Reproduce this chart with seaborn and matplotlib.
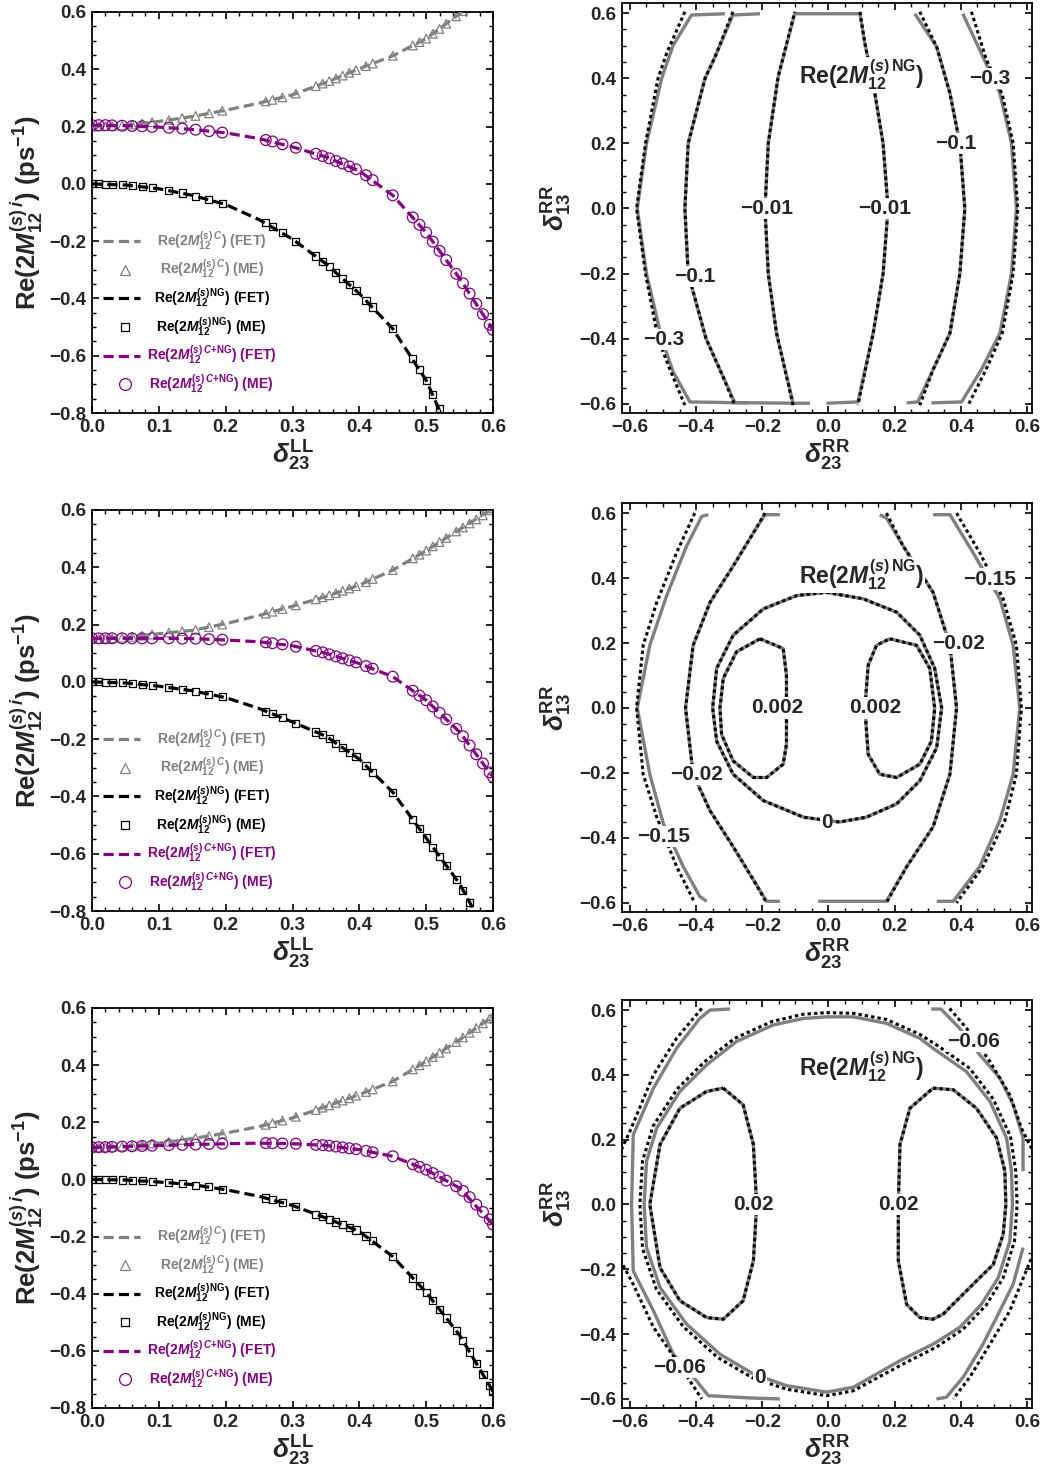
import matplotlib
matplotlib.use('Agg')
import matplotlib.pyplot as plt
import seaborn as sns
from matplotlib.ticker import MultipleLocator, FuncFormatter

# ---------------- left column: scan over delta_23^LL ----------------
delta_ll = [0.0, 0.05, 0.1, 0.15, 0.2, 0.25, 0.3, 0.35, 0.4, 0.45, 0.5, 0.55, 0.6]

c_fet_top = [0.200, 0.205, 0.218, 0.235, 0.257, 0.282, 0.311, 0.354, 0.402, 0.447, 0.507, 0.594, 0.69]
ng_fet_top = [0.0, -0.004, -0.017, -0.040, -0.072, -0.125, -0.193, -0.279, -0.383, -0.506, -0.686, -0.95, -1.2]
cng_fet_top = [0.205, 0.203, 0.198, 0.190, 0.178, 0.158, 0.129, 0.094, 0.045, -0.040, -0.170, -0.330, -0.510]

c_fet_mid = [0.150, 0.155, 0.168, 0.180, 0.203, 0.232, 0.264, 0.298, 0.338, 0.390, 0.458, 0.532, 0.606]
ng_fet_mid = [0.0, -0.004, -0.015, -0.031, -0.055, -0.093, -0.140, -0.190, -0.270, -0.385, -0.545, -0.705, -0.92]
cng_fet_mid = [0.152, 0.152, 0.152, 0.151, 0.146, 0.140, 0.126, 0.100, 0.064, 0.018, -0.064, -0.175, -0.332]

c_fet_bot = [0.112, 0.116, 0.127, 0.143, 0.162, 0.185, 0.215, 0.255, 0.297, 0.343, 0.413, 0.489, 0.571]
ng_fet_bot = [0.0, -0.002, -0.009, -0.018, -0.036, -0.059, -0.091, -0.135, -0.182, -0.270, -0.395, -0.545, -0.742]
cng_fet_bot = [0.112, 0.115, 0.119, 0.122, 0.125, 0.127, 0.125, 0.119, 0.104, 0.081, 0.034, -0.030, -0.158]

# scan points of the matrix-element (ME) calculation
me_x = [0.0, 0.01, 0.02, 0.03, 0.045, 0.06, 0.075, 0.09, 0.115, 0.135, 0.155, 0.175, 0.195,
        0.26, 0.27, 0.285, 0.305, 0.335, 0.345, 0.355, 0.365, 0.375, 0.385, 0.395, 0.41, 0.42,
        0.45, 0.48, 0.49, 0.5, 0.51, 0.52, 0.53, 0.545, 0.555, 0.565, 0.575, 0.585, 0.595, 0.6]

c_me_top = [.200, .200, .201, .202, .204, .207, .211, .215, .223, .230, .237, .246, .255,
            .288, .293, .302, .315, .341, .350, .359, .368, .378, .388, .397, .411, .420,
            .447, .483, .495, .507, .524, .541, .559, .585, .603, .62, .64, .66, .68, .69]
ng_me_top = [0, 0, -.001, -.0015, -.003, -.006, -.009, -.014, -.023, -.032, -.043, -.055, -.069,
             -.136, -.148, -.170, -.201, -.252, -.270, -.288, -.309, -.330, -.351, -.372, -.406, -.430,
             -.506, -.610, -.648, -.686, -.735, -.785, -.840, -.92, -.98, -1.03, -1.08, -1.13, -1.18, -1.2]
cng_me_top = [.205, .205, .205, .204, .203, .202, .201, .199, .196, .193, .189, .184, .179,
              .153, .148, .138, .126, .105, .097, .089, .080, .071, .061, .051, .030, .013,
              -.040, -.117, -.143, -.170, -.202, -.234, -.266, -.314, -.347, -.383, -.419, -.455, -.492, -.510]

c_me_mid = [.150, .150, .151, .152, .154, .157, .161, .165, .172, .177, .182, .191, .200,
            .238, .245, .254, .267, .288, .295, .302, .310, .318, .326, .334, .348, .359,
            .390, .431, .444, .458, .473, .488, .502, .525, .539, .553, .567, .581, .599, .606]
ng_me_mid = [0, 0, -.001, -.001, -.003, -.005, -.009, -.012, -.020, -.026, -.033, -.043, -.052,
             -.102, -.111, -.126, -.145, -.175, -.185, -.198, -.214, -.230, -.246, -.262, -.293, -.316,
             -.385, -.481, -.513, -.545, -.577, -.609, -.641, -.689, -.727, -.770, -.813, -.856, -.899, -.920]
cng_me_mid = [.152, .152, .152, .152, .152, .152, .152, .152, .152, .151, .151, .149, .147,
              .138, .135, .131, .123, .108, .103, .096, .089, .082, .075, .068, .055, .046,
              .018, -.031, -.048, -.064, -.086, -.108, -.131, -.164, -.190, -.222, -.253, -.285, -.316, -.332]

c_me_bot = [.112, .112, .113, .114, .115, .118, .121, .125, .132, .138, .145, .152, .160,
            .191, .197, .206, .219, .243, .251, .259, .268, .276, .284, .293, .306, .315,
            .343, .385, .399, .413, .428, .443, .458, .481, .497, .513, .530, .546, .563, .571]
ng_me_bot = [0, 0, 0, -.001, -.002, -.003, -.005, -.007, -.012, -.015, -.020, -.026, -.034,
             -.065, -.071, -.081, -.095, -.122, -.131, -.140, -.149, -.159, -.168, -.177, -.198, -.214,
             -.270, -.345, -.370, -.395, -.425, -.455, -.485, -.530, -.565, -.604, -.643, -.683, -.722, -.742]
cng_me_bot = [.112, .113, .113, .114, .115, .116, .117, .118, .120, .121, .122, .124, .125,
              .127, .127, .126, .125, .121, .120, .118, .115, .112, .109, .106, .100, .095,
              .081, .053, .044, .034, .022, .009, -.004, -.024, -.040, -.062, -.088, -.114, -.140, -.158]

# ---------------- right column: contour lines read off the plane ----------------
# top panel
r1_m03_left = [(-0.313, 0.598), (-0.414, 0.594), (-0.47, 0.50), (-0.504, 0.40), (-0.55, 0.20), (-0.578, 0.0),
               (-0.55, -0.20), (-0.504, -0.40), (-0.47, -0.50), (-0.419, -0.594), (-0.244, -0.597)]
r1_m03_left_dot = [(-0.434, 0.604), (-0.489, 0.477), (-0.515, 0.40), (-0.553, 0.20), (-0.58, 0.0),
                   (-0.553, -0.20), (-0.515, -0.40), (-0.479, -0.495), (-0.434, -0.604)]
r1_m01_left = [(-0.207, 0.598), (-0.289, 0.594), (-0.343, 0.465), (-0.373, 0.40), (-0.424, 0.20), (-0.434, 0.0),
               (-0.424, -0.20), (-0.37, -0.40), (-0.328, -0.495), (-0.283, -0.596), (-0.107, -0.598)]
r1_m01_left_dot = [(-0.289, 0.604), (-0.343, 0.465), (-0.373, 0.40), (-0.424, 0.20), (-0.434, 0.0),
                   (-0.424, -0.20), (-0.37, -0.40), (-0.328, -0.495), (-0.283, -0.604)]
r1_m001 = [(-0.056, -0.598), (-0.107, -0.598), (-0.157, -0.383), (-0.182, -0.20), (-0.192, 0.0), (-0.182, 0.20),
           (-0.152, 0.405), (-0.102, 0.598), (0.095, 0.598), (0.11, 0.507), (0.14, 0.354), (0.165, 0.20),
           (0.18, 0.0), (0.165, -0.20), (0.135, -0.383), (0.089, -0.594), (-0.006, -0.598)]
r1_m001_left_dot = [(-0.107, -0.604), (-0.157, -0.383), (-0.182, -0.20), (-0.192, 0.0), (-0.182, 0.20),
                    (-0.152, 0.405), (-0.102, 0.604)]
r1_m001_right_dot = [(0.095, 0.604), (0.11, 0.507), (0.14, 0.354), (0.165, 0.20), (0.18, 0.0),
                     (0.165, -0.20), (0.135, -0.383), (0.089, -0.604)]
r1_m01_right = [(0.261, 0.598), (0.327, 0.496), (0.367, 0.354), (0.397, 0.20), (0.412, 0.0), (0.397, -0.20),
                (0.367, -0.383), (0.316, -0.495), (0.27, -0.594), (0.236, -0.597)]
r1_m01_right_dot = [(0.276, 0.604), (0.327, 0.496), (0.367, 0.354), (0.397, 0.20), (0.412, 0.0),
                    (0.397, -0.20), (0.367, -0.383), (0.316, -0.495), (0.276, -0.604)]
r1_m03_right = [(0.406, 0.598), (0.467, 0.465), (0.518, 0.354), (0.553, 0.20), (0.568, 0.0), (0.553, -0.20),
                (0.518, -0.383), (0.462, -0.495), (0.402, -0.594), (0.311, -0.597)]
r1_m03_right_dot = [(0.432, 0.604), (0.476, 0.46), (0.525, 0.35), (0.558, 0.20), (0.572, 0.0),
                    (0.558, -0.20), (0.525, -0.383), (0.476, -0.495), (0.422, -0.604)]
r1_labels = [(-0.499, -0.403, '−0.3'), (0.488, 0.40, '−0.3'), (-0.404, -0.209, '−0.1'),
             (0.384, 0.20, '−0.1'), (-0.187, 0.0, '−0.01'), (0.17, 0.0, '−0.01')]

# middle panel
r2_zero = [(-0.006, 0.356), (0.105, 0.336), (0.206, 0.295), (0.276, 0.224), (0.321, 0.122), (0.342, 0.0),
           (0.327, -0.122), (0.276, -0.224), (0.206, -0.295), (0.115, -0.336), (0.034, -0.351),
           (-0.006, -0.346), (-0.076, -0.336), (-0.197, -0.285), (-0.288, -0.204), (-0.338, -0.102),
           (-0.35, 0.0), (-0.338, 0.122), (-0.288, 0.224), (-0.197, 0.305), (-0.096, 0.346), (-0.006, 0.356)]
r2_p002_left = [(-0.207, 0.213), (-0.137, 0.183), (-0.127, 0.101), (-0.127, -0.112), (-0.137, -0.173),
                (-0.187, -0.214), (-0.227, -0.214), (-0.288, -0.163), (-0.323, -0.082), (-0.328, 0.0),
                (-0.318, 0.091), (-0.278, 0.173), (-0.207, 0.213)]
r2_p002_right = [(0.185, 0.213), (0.266, 0.193), (0.306, 0.122), (0.321, 0.0), (0.311, -0.102),
                 (0.276, -0.173), (0.206, -0.214), (0.155, -0.204), (0.12, -0.143), (0.11, 0.0),
                 (0.12, 0.132), (0.145, 0.193), (0.185, 0.213)]
r2_m002_left = [(-0.147, 0.595), (-0.192, 0.595), (-0.227, 0.539), (-0.288, 0.437), (-0.358, 0.325),
                (-0.409, 0.193), (-0.432, 0.0), (-0.409, -0.204), (-0.358, -0.316), (-0.288, -0.427),
                (-0.227, -0.529), (-0.187, -0.595), (-0.147, -0.595)]
r2_m002_left_dot = [(-0.192, 0.60), (-0.227, 0.539), (-0.288, 0.437), (-0.358, 0.325), (-0.409, 0.193),
                    (-0.432, 0.0), (-0.409, -0.204), (-0.358, -0.316), (-0.288, -0.427), (-0.227, -0.529),
                    (-0.187, -0.60)]
r2_m002_right = [(0.155, 0.595), (0.175, 0.585), (0.226, 0.498), (0.316, 0.356), (0.367, 0.193),
                 (0.387, 0.0), (0.367, -0.204), (0.316, -0.366), (0.236, -0.489), (0.175, -0.595),
                 (-0.031, -0.595)]
r2_m002_right_dot = [(0.175, 0.60), (0.226, 0.498), (0.316, 0.356), (0.367, 0.193), (0.387, 0.0),
                     (0.367, -0.204), (0.316, -0.366), (0.236, -0.489), (0.175, -0.60)]
r2_m015_left = [(-0.363, 0.595), (-0.383, 0.59), (-0.429, 0.498), (-0.489, 0.346), (-0.54, 0.193),
                (-0.578, 0.0), (-0.54, -0.204), (-0.499, -0.356), (-0.439, -0.488), (-0.389, -0.58),
                (-0.368, -0.595)]
r2_m015_left_dot = [(-0.404, 0.60), (-0.459, 0.478), (-0.519, 0.325), (-0.56, 0.193), (-0.58, 0.0),
                    (-0.56, -0.204), (-0.519, -0.336), (-0.459, -0.488), (-0.404, -0.60)]
r2_m015_right = [(0.316, 0.595), (0.367, 0.595), (0.437, 0.478), (0.518, 0.336), (0.558, 0.193),
                 (0.578, 0.0), (0.558, -0.204), (0.518, -0.346), (0.457, -0.488), (0.377, -0.595),
                 (0.327, -0.595)]
r2_m015_right_dot = [(0.387, 0.60), (0.457, 0.478), (0.528, 0.336), (0.568, 0.193), (0.583, 0.0),
                     (0.568, -0.204), (0.533, -0.346), (0.467, -0.488), (0.387, -0.60)]
r2_labels = [(-0.155, 0.0, '0.002'), (0.14, 0.0, '0.002'), (-0.006, -0.351, '0'),
             (-0.399, -0.204, '−0.02'), (0.392, 0.198, '−0.02'), (-0.499, -0.397, '−0.15'),
             (0.488, 0.397, '−0.15')]

# bottom panel
r3_p002_left = [(-0.318, 0.359), (-0.258, 0.308), (-0.227, 0.185), (-0.217, 0.0), (-0.227, -0.174),
                (-0.258, -0.297), (-0.318, -0.354), (-0.368, -0.349), (-0.449, -0.297), (-0.509, -0.195),
                (-0.54, 0.0), (-0.509, 0.185), (-0.449, 0.297), (-0.368, 0.349), (-0.318, 0.359)]
r3_p002_right = [(0.316, 0.359), (0.377, 0.354), (0.447, 0.297), (0.508, 0.205), (0.533, 0.103),
                 (0.536, 0.0), (0.528, -0.092), (0.498, -0.185), (0.437, -0.246), (0.387, -0.297),
                 (0.347, -0.338), (0.316, -0.354), (0.276, -0.349), (0.236, -0.308), (0.211, -0.174),
                 (0.211, 0.0), (0.216, 0.185), (0.246, 0.297), (0.316, 0.359)]
r3_zero = [(-0.006, 0.579), (0.075, 0.579), (0.175, 0.559), (0.276, 0.513), (0.316, 0.482), (0.417, 0.41),
           (0.488, 0.318), (0.538, 0.205), (0.553, 0.103), (0.556, 0.0), (0.548, -0.113), (0.513, -0.226),
           (0.462, -0.308), (0.397, -0.379), (0.316, -0.431), (0.216, -0.482), (0.075, -0.564),
           (-0.006, -0.579), (-0.127, -0.559), (-0.227, -0.523), (-0.328, -0.462), (-0.429, -0.369),
           (-0.509, -0.256), (-0.55, -0.133), (-0.557, 0.0), (-0.55, 0.133), (-0.519, 0.236),
           (-0.449, 0.349), (-0.368, 0.431), (-0.278, 0.503), (-0.167, 0.554), (-0.076, 0.574), (-0.006, 0.579)]
r3_zero_dot = [(-0.006, 0.592), (0.075, 0.59), (0.175, 0.571), (0.276, 0.525), (0.33, 0.49), (0.427, 0.42),
               (0.498, 0.325), (0.55, 0.21), (0.566, 0.103), (0.57, 0.0), (0.562, -0.113), (0.528, -0.226),
               (0.477, -0.31), (0.407, -0.385), (0.326, -0.44), (0.226, -0.492), (0.075, -0.575),
               (-0.006, -0.59), (-0.127, -0.57), (-0.23, -0.535), (-0.335, -0.472), (-0.438, -0.378),
               (-0.52, -0.262), (-0.562, -0.135), (-0.57, 0.0), (-0.562, 0.135), (-0.53, 0.242),
               (-0.457, 0.357), (-0.375, 0.44), (-0.283, 0.513), (-0.17, 0.565), (-0.076, 0.587), (-0.006, 0.592)]
r3_m006_left = [(-0.298, 0.603), (-0.358, 0.60), (-0.389, 0.574), (-0.459, 0.482), (-0.529, 0.359),
                (-0.59, 0.215), (-0.595, 0.0), (-0.59, -0.205), (-0.529, -0.328), (-0.469, -0.462),
                (-0.399, -0.544), (-0.363, -0.59), (-0.237, -0.597), (-0.147, -0.60)]
r3_m006_left_dot_top = [(-0.383, 0.605), (-0.459, 0.513), (-0.529, 0.40), (-0.60, 0.226), (-0.63, 0.16)]
r3_m006_left_dot_bot = [(-0.63, -0.17), (-0.595, -0.236), (-0.529, -0.379), (-0.459, -0.482), (-0.383, -0.60)]
r3_m006_right_top = [(0.311, 0.603), (0.34, 0.603), (0.396, 0.544), (0.457, 0.462), (0.518, 0.39),
                     (0.558, 0.308), (0.588, 0.205), (0.588, 0.103)]
r3_m006_right_bot = [(0.588, -0.133), (0.558, -0.246), (0.518, -0.328), (0.467, -0.431), (0.407, -0.533),
                     (0.356, -0.595), (0.326, -0.60)]
r3_m006_right_dot_top = [(0.366, 0.605), (0.417, 0.544), (0.488, 0.441), (0.548, 0.338), (0.583, 0.236),
                         (0.62, 0.16)]
r3_m006_right_dot_bot = [(0.62, -0.15), (0.593, -0.216), (0.548, -0.328), (0.488, -0.431), (0.427, -0.533),
                         (0.377, -0.60)]
r3_labels = [(-0.227, 0.0, '0.02'), (0.211, 0.0, '0.02'), (0.437, 0.503, '−0.06'),
             (-0.449, -0.503, '−0.06'), (-0.207, -0.533, '0')]

GRAY = '#808080'
PURPLE = '#800080'

sns.set_theme(style='ticks')
plt.rcParams['font.family'] = ['Liberation Sans', 'DejaVu Sans']
plt.rcParams['font.weight'] = 'bold'
plt.rcParams['axes.labelweight'] = 'bold'
plt.rcParams['mathtext.fontset'] = 'custom'
plt.rcParams['mathtext.rm'] = 'Liberation Sans:bold'
plt.rcParams['mathtext.bf'] = 'Liberation Sans:bold'
plt.rcParams['mathtext.it'] = 'Liberation Sans:italic:bold'
plt.rcParams['axes.linewidth'] = 1.3
plt.rcParams['axes.edgecolor'] = 'black'


def fmt(v, pos):
    if abs(v) < 1e-9:
        return '0.0'
    return f'{v:.1f}'.replace('-', '\u2212')


def style_axes(ax, xmaj, xmin, ymaj, ymin):
    ax.xaxis.set_major_locator(MultipleLocator(xmaj))
    ax.xaxis.set_minor_locator(MultipleLocator(xmin))
    ax.yaxis.set_major_locator(MultipleLocator(ymaj))
    ax.yaxis.set_minor_locator(MultipleLocator(ymin))
    ax.xaxis.set_major_formatter(FuncFormatter(fmt))
    ax.yaxis.set_major_formatter(FuncFormatter(fmt))
    ax.tick_params(which='both', direction='in', top=True, right=True, color='black',
                   labelsize=13.5, pad=4)
    ax.tick_params(which='major', length=5, width=1.2)
    ax.tick_params(which='minor', length=2.8, width=1.0)


legend_rows = [
    (-0.2, 'line', GRAY, r'Re(2$M_{12}^{(s)\;C}$) (FET)'),
    (-0.3, '^', GRAY, r'Re(2$M_{12}^{(s)\;C}$) (ME)'),
    (-0.4, 'line', 'black', r'Re(2$M_{12}^{(s)\,\mathrm{NG}}$) (FET)'),
    (-0.5, 's', 'black', r'Re(2$M_{12}^{(s)\,\mathrm{NG}}$) (ME)'),
    (-0.6, 'line', PURPLE, r'Re(2$M_{12}^{(s)\;C\mathrm{+NG}}$) (FET)'),
    (-0.7, 'o', PURPLE, r'Re(2$M_{12}^{(s)\;C\mathrm{+NG}}$) (ME)'),
]

DASH = (0, (3.2, 1.6))


def left_panel(ax, c_fet, ng_fet, cng_fet, c_me, ng_me, cng_me):
    for ys, col in [(c_fet, GRAY), (ng_fet, 'black'), (cng_fet, PURPLE)]:
        sns.lineplot(x=delta_ll, y=ys, ax=ax, color=col, lw=2.3, linestyle=DASH, zorder=3)
    sns.scatterplot(x=me_x, y=c_me, ax=ax, marker='^', s=38, color=GRAY, facecolor='none',
                    edgecolor=GRAY, linewidth=0.9, zorder=2)
    sns.scatterplot(x=me_x, y=ng_me, ax=ax, marker='s', s=26, color='black', facecolor='none',
                    edgecolor='black', linewidth=0.9, zorder=2)
    sns.scatterplot(x=me_x, y=cng_me, ax=ax, marker='o', s=60, color=PURPLE, facecolor='none',
                    edgecolor=PURPLE, linewidth=0.9, zorder=2)
    for y, kind, col, text in legend_rows:
        if kind == 'line':
            ax.plot([0.017, 0.072], [y, y], color=col, lw=2.3, linestyle=DASH)
        else:
            size = {'^': 6.5, 's': 5.2, 'o': 8.5}[kind]
            ax.plot([0.049], [y], marker=kind, ms=size, mfc='none', mec=col, mew=0.9, ls='none')
        ax.text(0.179, y, text, color=col, fontsize=10, fontweight='bold', ha='center', va='center')
    ax.set_xlim(0, 0.6)
    ax.set_ylim(-0.8, 0.6)
    style_axes(ax, 0.1, 0.02, 0.2, 0.05)
    ax.set_xlabel(r'$\delta_{23}^{\mathrm{LL}}$', fontsize=19, labelpad=2)
    ax.set_ylabel(r'Re(2$M_{12}^{(s)\,i}$) (ps$^{-1}$)', fontsize=18.5, labelpad=3)


def draw_line(ax, pts, dotted=False):
    xs = [p[0] for p in pts]
    ys = [p[1] for p in pts]
    if dotted:
        sns.lineplot(x=xs, y=ys, ax=ax, sort=False, estimator=None, color='black', lw=2.2,
                     linestyle=(0, (1.1, 1.0)), zorder=3)
    else:
        sns.lineplot(x=xs, y=ys, ax=ax, sort=False, estimator=None, color=GRAY, lw=2.4,
                     solid_capstyle='butt', zorder=2)


def right_panel(ax, gray_lines, dot_lines, labels, title_y):
    for pts in gray_lines:
        draw_line(ax, pts)
    for pts in dot_lines:
        draw_line(ax, pts, dotted=True)
    for x, y, s in labels:
        ax.text(x, y, s, fontsize=15, fontweight='bold', ha='center', va='center', zorder=5,
                bbox=dict(fc='white', ec='none', pad=0.8))
    ax.text(0.1, title_y, r'Re(2$M_{12}^{(s)\,\mathrm{NG}}$)', fontsize=16.5, fontweight='bold',
            ha='center', va='center', zorder=5, bbox=dict(fc='white', ec='none', pad=0.3))
    ax.set_xlim(-0.624, 0.615)
    ax.set_ylim(-0.628, 0.631)
    style_axes(ax, 0.2, 0.05, 0.2, 0.05)
    ax.set_xlabel(r'$\delta_{23}^{\mathrm{RR}}$', fontsize=19, labelpad=2)
    ax.set_ylabel(r'$\delta_{13}^{\mathrm{RR}}$', fontsize=19, labelpad=4)


fig = plt.figure(figsize=(10.41, 14.79), dpi=100)
W, H = 1041, 1479


def add_axes(x0, x1, y0, y1):
    return fig.add_axes([x0 / W, 1 - y1 / H, (x1 - x0) / W, (y1 - y0) / H])


axL1 = add_axes(92, 493, 12, 413)
axL2 = add_axes(92, 493, 510, 911)
axL3 = add_axes(92, 493, 1008, 1408)
axR1 = add_axes(622, 1032, 3, 413)
axR2 = add_axes(622, 1032, 503, 912)
axR3 = add_axes(622, 1032, 1000, 1408)

left_panel(axL1, c_fet_top, ng_fet_top, cng_fet_top, c_me_top, ng_me_top, cng_me_top)
left_panel(axL2, c_fet_mid, ng_fet_mid, cng_fet_mid, c_me_mid, ng_me_mid, cng_me_mid)
left_panel(axL3, c_fet_bot, ng_fet_bot, cng_fet_bot, c_me_bot, ng_me_bot, cng_me_bot)

right_panel(axR1,
            [r1_m03_left, r1_m01_left, r1_m001, r1_m01_right, r1_m03_right],
            [r1_m03_left_dot, r1_m01_left_dot, r1_m001_left_dot, r1_m001_right_dot,
             r1_m01_right_dot, r1_m03_right_dot],
            r1_labels, 0.41)
right_panel(axR2,
            [r2_zero, r2_p002_left, r2_p002_right, r2_m002_left, r2_m002_right, r2_m015_left, r2_m015_right],
            [r2_zero, r2_p002_left, r2_p002_right, r2_m002_left_dot, r2_m002_right_dot,
             r2_m015_left_dot, r2_m015_right_dot],
            r2_labels, 0.41)
right_panel(axR3,
            [r3_p002_left, r3_p002_right, r3_zero, r3_m006_left, r3_m006_right_top, r3_m006_right_bot],
            [r3_p002_left, r3_p002_right, r3_zero_dot, r3_m006_left_dot_top, r3_m006_left_dot_bot,
             r3_m006_right_dot_top, r3_m006_right_dot_bot],
            r3_labels, 0.426)

fig.savefig('out.png', dpi=100)
